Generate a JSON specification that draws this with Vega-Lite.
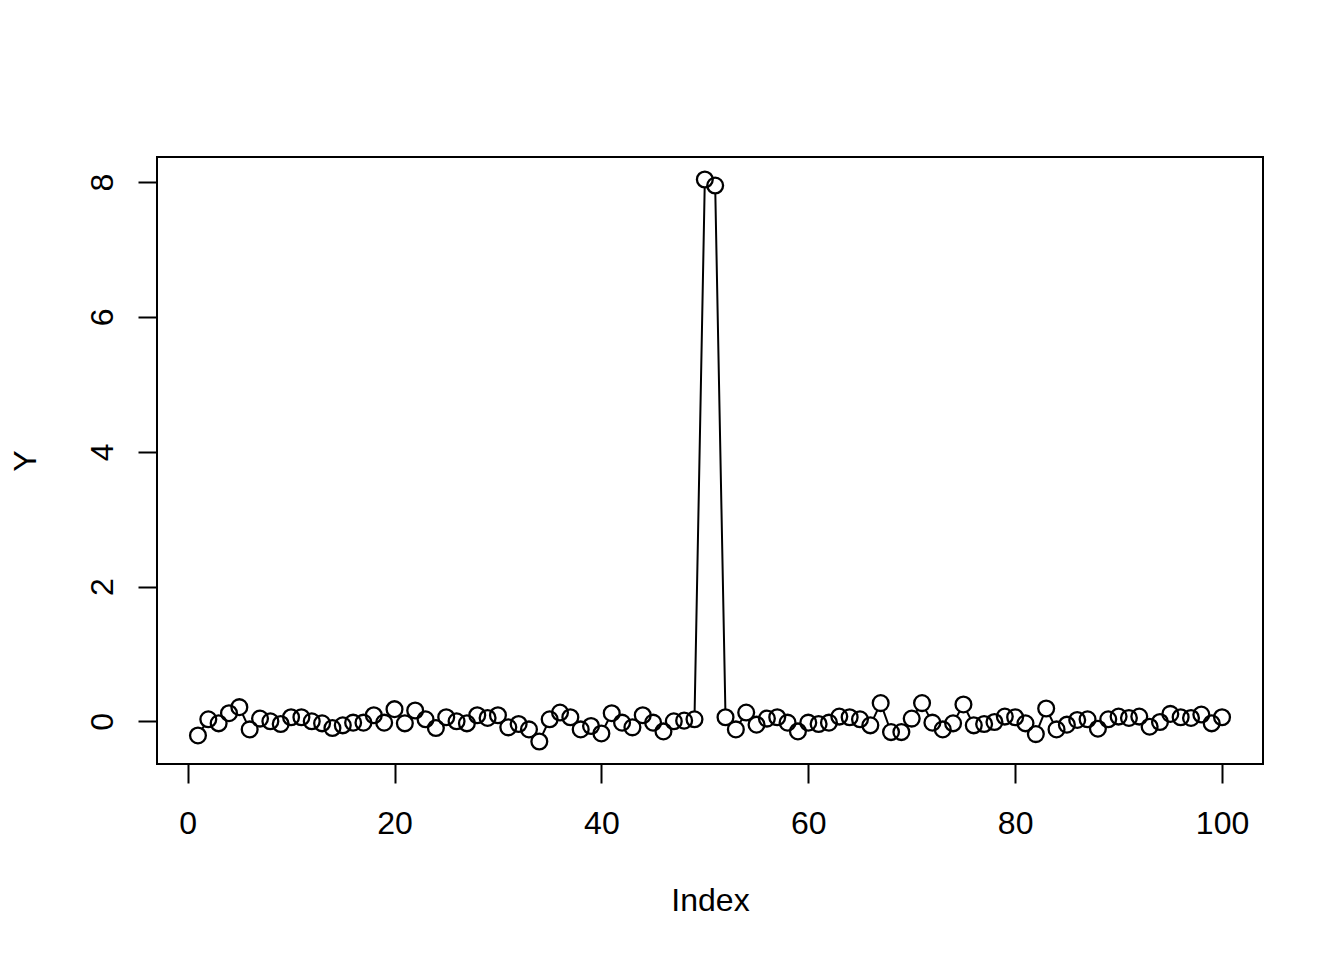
{
  "$schema": "https://vega.github.io/schema/vega-lite/v6.json",
  "autosize": "none",
  "padding": {"left": 157, "top": 157, "right": 81, "bottom": 196},
  "width": 1106,
  "height": 607,
  "background": "white",
  "config": {
    "font": "Liberation Sans",
    "view": {"stroke": "black", "strokeWidth": 2},
    "axis": {
      "domain": false,
      "grid": false,
      "ticks": true,
      "tickColor": "black",
      "tickWidth": 2,
      "tickSize": 19,
      "labelColor": "black",
      "labelFont": "Liberation Sans",
      "labelFontSize": 32,
      "titleFont": "Liberation Sans",
      "titleFontSize": 32,
      "titleFontWeight": "normal",
      "titleColor": "black"
    }
  },
  "data": {
    "values": [
      {"Index": 1, "Y": -0.21}, {"Index": 2, "Y": 0.03}, {"Index": 3, "Y": -0.03}, {"Index": 4, "Y": 0.12},
      {"Index": 5, "Y": 0.21}, {"Index": 6, "Y": -0.12}, {"Index": 7, "Y": 0.04}, {"Index": 8, "Y": 0.0},
      {"Index": 9, "Y": -0.04}, {"Index": 10, "Y": 0.06}, {"Index": 11, "Y": 0.06}, {"Index": 12, "Y": 0.0},
      {"Index": 13, "Y": -0.03}, {"Index": 14, "Y": -0.1}, {"Index": 15, "Y": -0.06}, {"Index": 16, "Y": -0.02},
      {"Index": 17, "Y": -0.02}, {"Index": 18, "Y": 0.09}, {"Index": 19, "Y": -0.02}, {"Index": 20, "Y": 0.18},
      {"Index": 21, "Y": -0.03}, {"Index": 22, "Y": 0.16}, {"Index": 23, "Y": 0.03}, {"Index": 24, "Y": -0.1},
      {"Index": 25, "Y": 0.06}, {"Index": 26, "Y": 0.0}, {"Index": 27, "Y": -0.03}, {"Index": 28, "Y": 0.09},
      {"Index": 29, "Y": 0.05}, {"Index": 30, "Y": 0.09}, {"Index": 31, "Y": -0.09}, {"Index": 32, "Y": -0.04},
      {"Index": 33, "Y": -0.12}, {"Index": 34, "Y": -0.3}, {"Index": 35, "Y": 0.03}, {"Index": 36, "Y": 0.13},
      {"Index": 37, "Y": 0.06}, {"Index": 38, "Y": -0.12}, {"Index": 39, "Y": -0.07}, {"Index": 40, "Y": -0.18},
      {"Index": 41, "Y": 0.12}, {"Index": 42, "Y": -0.02}, {"Index": 43, "Y": -0.09}, {"Index": 44, "Y": 0.09},
      {"Index": 45, "Y": -0.02}, {"Index": 46, "Y": -0.15}, {"Index": 47, "Y": 0.0}, {"Index": 48, "Y": 0.01},
      {"Index": 49, "Y": 0.03}, {"Index": 50, "Y": 8.04}, {"Index": 51, "Y": 7.95}, {"Index": 52, "Y": 0.06},
      {"Index": 53, "Y": -0.12}, {"Index": 54, "Y": 0.13}, {"Index": 55, "Y": -0.05}, {"Index": 56, "Y": 0.04},
      {"Index": 57, "Y": 0.06}, {"Index": 58, "Y": -0.02}, {"Index": 59, "Y": -0.15}, {"Index": 60, "Y": -0.02},
      {"Index": 61, "Y": -0.04}, {"Index": 62, "Y": -0.02}, {"Index": 63, "Y": 0.07}, {"Index": 64, "Y": 0.06},
      {"Index": 65, "Y": 0.03}, {"Index": 66, "Y": -0.06}, {"Index": 67, "Y": 0.27}, {"Index": 68, "Y": -0.16},
      {"Index": 69, "Y": -0.16}, {"Index": 70, "Y": 0.04}, {"Index": 71, "Y": 0.27}, {"Index": 72, "Y": -0.02},
      {"Index": 73, "Y": -0.12}, {"Index": 74, "Y": -0.03}, {"Index": 75, "Y": 0.25}, {"Index": 76, "Y": -0.06},
      {"Index": 77, "Y": -0.04}, {"Index": 78, "Y": -0.01}, {"Index": 79, "Y": 0.07}, {"Index": 80, "Y": 0.06},
      {"Index": 81, "Y": -0.03}, {"Index": 82, "Y": -0.19}, {"Index": 83, "Y": 0.19}, {"Index": 84, "Y": -0.12},
      {"Index": 85, "Y": -0.05}, {"Index": 86, "Y": 0.02}, {"Index": 87, "Y": 0.03}, {"Index": 88, "Y": -0.11},
      {"Index": 89, "Y": 0.03}, {"Index": 90, "Y": 0.07}, {"Index": 91, "Y": 0.05}, {"Index": 92, "Y": 0.07},
      {"Index": 93, "Y": -0.08}, {"Index": 94, "Y": -0.01}, {"Index": 95, "Y": 0.11}, {"Index": 96, "Y": 0.06},
      {"Index": 97, "Y": 0.05}, {"Index": 98, "Y": 0.1}, {"Index": 99, "Y": -0.03}, {"Index": 100, "Y": 0.06}
    ]
  },
  "encoding": {
    "x": {
      "field": "Index",
      "type": "quantitative",
      "scale": {"domain": [-2.96, 103.96], "nice": false, "zero": false},
      "axis": {
        "values": [0, 20, 40, 60, 80, 100],
        "labelPadding": 25,
        "labelBaseline": "top",
        "title": "Index",
        "titleX": 553,
        "titleY": 146,
        "titleBaseline": "alphabetic",
        "titleAlign": "center"
      }
    },
    "y": {
      "field": "Y",
      "type": "quantitative",
      "scale": {"domain": [-0.6336, 8.3736], "nice": false, "zero": false},
      "axis": {
        "values": [0, 2, 4, 6, 8],
        "labelAngle": -90,
        "labelAlign": "center",
        "labelBaseline": "alphabetic",
        "labelPadding": 26,
        "title": "Y",
        "titleAngle": -90,
        "titleX": -122,
        "titleY": 303.5,
        "titleBaseline": "alphabetic",
        "titleAlign": "center"
      }
    }
  },
  "layer": [
    {"mark": {"type": "line", "color": "black", "strokeWidth": 2}},
    {"mark": {"type": "point", "shape": "circle", "filled": true, "fill": "white", "opacity": 1, "size": 250, "strokeWidth": 0}},
    {"mark": {"type": "point", "shape": "circle", "filled": false, "stroke": "black", "opacity": 1, "size": 250, "strokeWidth": 2.3}}
  ]
}
